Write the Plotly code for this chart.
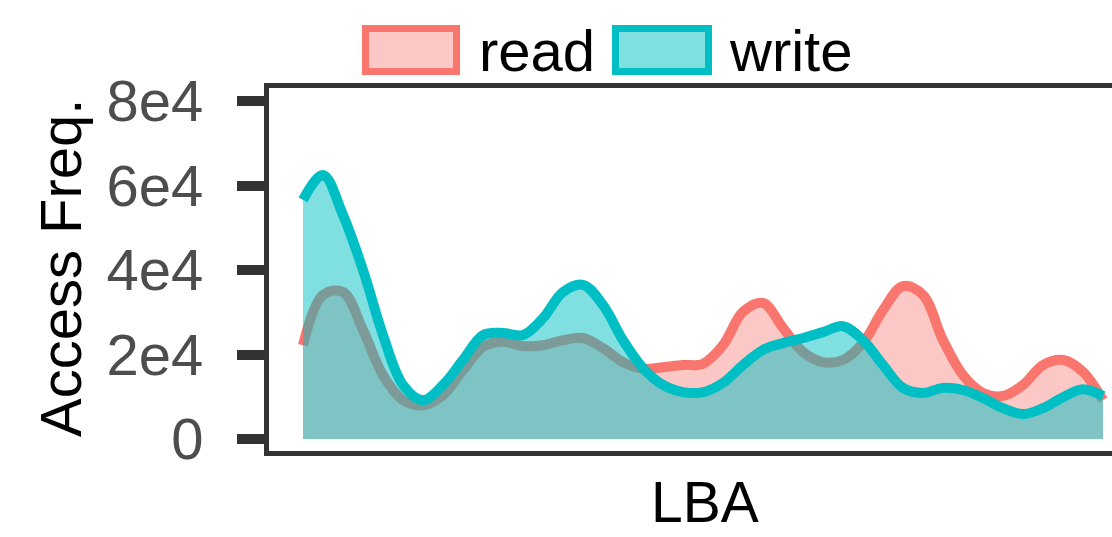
import plotly.graph_objects as go

# LBA position (percent of address space) and access frequency per op type
lba = [i * 2.5 for i in range(41)]
read_freq = [22200, 34100, 34800, 25800, 15100, 9200, 8000, 10400, 16300, 21800,
             23000, 22000, 22200, 23400, 23900, 21500, 18200, 16600, 17000, 17500,
             17800, 22200, 30100, 32200, 26300, 20600, 18200, 18700, 22700, 30500,
             36200, 34100, 23400, 15100, 10900, 10200, 12800, 17500, 18700, 15900,
             9200]
write_freq = [56600, 62500, 53000, 40000, 24600, 12800, 9200, 12800, 18700, 24600,
              25100, 24600, 28600, 34800, 36500, 31700, 23400, 16800, 12800, 11100,
              11100, 13300, 17500, 21100, 22700, 23900, 25300, 26700, 23400, 17500,
              12100, 10900, 12100, 11600, 9700, 7300, 5900, 7300, 9900, 11800,
              10200]
y_tickvals = [0, 20000, 40000, 60000, 80000]
y_ticktext = ["0", "2e4", "4e4", "6e4", "8e4"]
series_names = ["read", "write"]

READ_LINE = "#F8766D"
WRITE_LINE = "#00BFC4"
READ_FILL = "rgba(248,118,109,0.40)"
WRITE_FILL = "rgba(0,191,196,0.50)"
FONT = "Liberation Sans, Arial, Helvetica, sans-serif"

W, H = 1112, 537
ML, MR, MT, MB = 269, 0, 88, 86


def px_x(px):
    return (px - ML) / (W - ML - MR)


def px_y(py):
    return (H - MB - py) / (H - MT - MB)


fig = go.Figure()
fig.add_trace(go.Scatter(
    x=lba, y=read_freq, name=series_names[0], mode="lines",
    line=dict(color=READ_LINE, width=10, shape="spline", smoothing=1.0),
    fill="tozeroy", fillcolor=READ_FILL, showlegend=False,
))
fig.add_trace(go.Scatter(
    x=lba, y=write_freq, name=series_names[1], mode="lines",
    line=dict(color=WRITE_LINE, width=10, shape="spline", smoothing=1.0),
    fill="tozeroy", fillcolor=WRITE_FILL, showlegend=False,
))

# legend keys drawn as outlined boxes above the panel
shapes = []
annotations = []
key_specs = [
    (series_names[0], READ_LINE, READ_FILL, 362, 460, 477),
    (series_names[1], WRITE_LINE, WRITE_FILL, 612, 712, 727),
]
for name, lc, fc, x0, x1, tx in key_specs:
    shapes.append(dict(
        type="rect", xref="paper", yref="paper",
        x0=px_x(x0 + 3.5), x1=px_x(x1 - 3.5),
        y0=px_y(75 - 3.5), y1=px_y(25 + 3.5),
        line=dict(color=lc, width=7), fillcolor=fc, layer="above",
    ))
    annotations.append(dict(
        text=name, xref="paper", yref="paper", x=px_x(tx), y=px_y(50),
        xanchor="left", yanchor="middle", showarrow=False,
        font=dict(family=FONT, size=58, color="#000000"),
    ))

annotations.append(dict(
    text="Access Freq.", xref="paper", yref="paper", x=px_x(60), y=px_y(268),
    xanchor="center", yanchor="middle", textangle=-90, showarrow=False,
    font=dict(family=FONT, size=58, color="#000000"),
))
annotations.append(dict(
    text="LBA", xref="paper", yref="paper", x=px_x(705), y=px_y(502),
    xanchor="center", yanchor="middle", showarrow=False,
    font=dict(family=FONT, size=57, color="#000000"),
))

fig.update_layout(
    width=W, height=H, autosize=False,
    margin=dict(l=ML, r=MR, t=MT, b=MB, pad=0),
    paper_bgcolor="white", plot_bgcolor="white",
    font=dict(family=FONT),
    shapes=shapes, annotations=annotations,
    showlegend=False,
)
fig.update_xaxes(
    range=[-4.25, 101.125], showticklabels=False, ticks="",
    showgrid=False, zeroline=False,
    showline=True, linecolor="#333333", linewidth=5, mirror=True,
)
fig.update_yaxes(
    range=[-2840, 83077], tickmode="array",
    tickvals=y_tickvals, ticktext=y_ticktext,
    ticks="outside", ticklen=27, tickwidth=10, tickcolor="#333333",
    ticklabelstandoff=22,
    tickfont=dict(family=FONT, size=58, color="#4D4D4D"),
    showgrid=False, zeroline=False,
    showline=True, linecolor="#333333", linewidth=5, mirror=False,
)

fig.write_html("out.html")
